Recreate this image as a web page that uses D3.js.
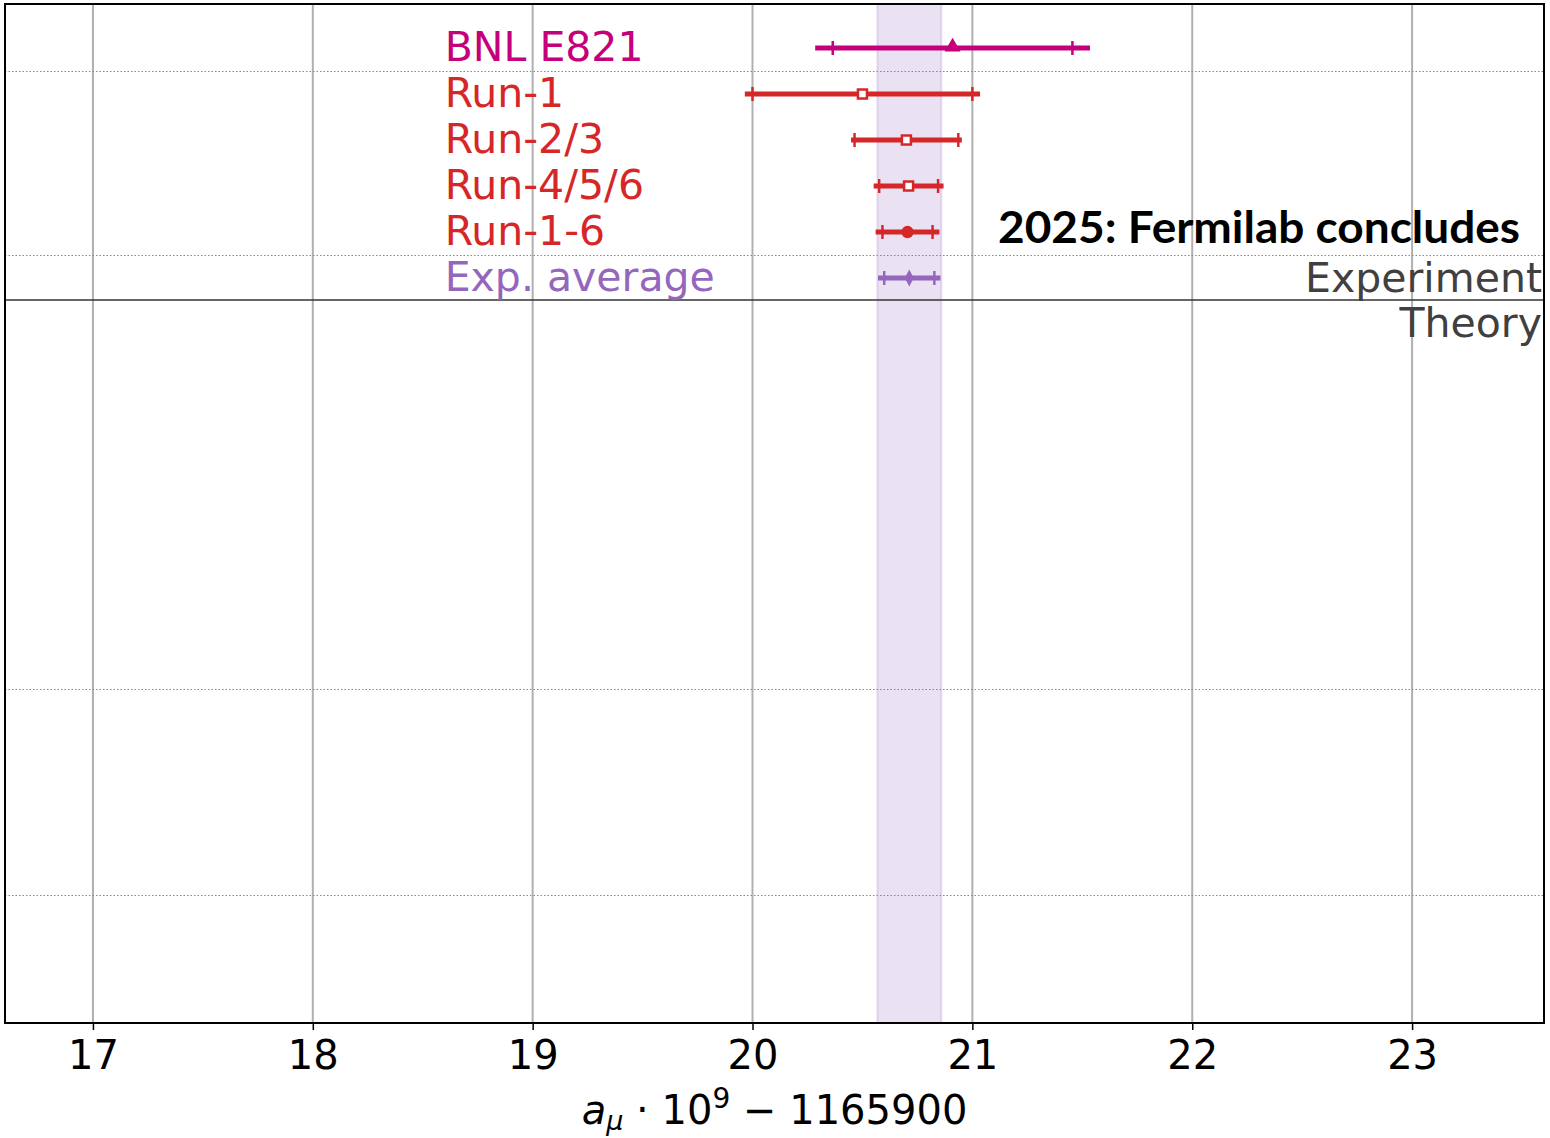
<!DOCTYPE html>
<meta charset="utf-8" />
<script src="https://d3js.org/d3.v7.min.js"></script>
<head>
<style>
  body { margin: 0; background: white; }
  .lbl { font-family: 'DejaVu Sans', sans-serif; font-size: 40px; }
  .row { font-family: 'DejaVu Sans', sans-serif; font-size: 41px; }
  .sec { font-family: 'DejaVu Sans', sans-serif; font-size: 41px; }
  .tick text { font-family: 'DejaVu Sans', sans-serif; font-size: 40px; }
</style>
</head>
<body>
<svg id="chart" width="1550" height="1138"></svg>
<script>
// measurements (a_mu * 1e9 - 1165900)
const labels = ["BNL E821", "Run-1", "Run-2/3", "Run-4/5/6", "Run-1-6", "Exp. average"];
const centers = [20.91, 20.50, 20.70, 20.71, 20.705, 20.713];
const totalErr = [0.625, 0.535, 0.252, 0.159, 0.145, 0.142];
const statErr = [0.545, 0.50, 0.236, 0.134, 0.114, 0.114];
const colors = ["#c4007a", "#d62728", "#d62728", "#d62728", "#d62728", "#9467bd"];
const markers = ["triangle", "square", "square", "square", "circle", "diamond"];
const xTicks = [17, 18, 19, 20, 21, 22, 23];
const bandRange = [20.568, 20.859];
const dottedRows = [0.5, 4.5, 13.94, 18.42];
const splitRow = 5.48;

const svg = d3.select("#chart");
const pLeft = 5, pRight = 1544, pTop = 4, pBottom = 1023;

const x = d3.scaleLinear().domain([16.6, 23.6]).range([pLeft, pRight]);
const y = d3.scaleLinear().domain([-0.957, 21.196]).range([pTop, pBottom]);

// grid
svg.append("g").selectAll("line").data(xTicks).enter().append("line")
  .attr("x1", d => x(d)).attr("x2", d => x(d))
  .attr("y1", pTop).attr("y2", pBottom)
  .attr("stroke", "#b0b0b0").attr("stroke-width", 2);

// experimental average band
svg.append("rect")
  .attr("x", x(bandRange[0])).attr("width", x(bandRange[1]) - x(bandRange[0]))
  .attr("y", pTop).attr("height", pBottom - pTop)
  .attr("fill", "#9467bd").attr("fill-opacity", 0.2)
  .attr("stroke", "#9467bd").attr("stroke-opacity", 0.2).attr("stroke-width", 2);

// dotted separators
svg.append("g").selectAll("line").data(dottedRows).enter().append("line")
  .attr("x1", pLeft).attr("x2", pRight)
  .attr("y1", d => Math.round(y(d)) + 0.5).attr("y2", d => Math.round(y(d)) + 0.5)
  .attr("stroke", "#888").attr("stroke-width", 1.2).attr("stroke-dasharray", "1.5,2");

// experiment / theory split
svg.append("line")
  .attr("x1", pLeft).attr("x2", pRight)
  .attr("y1", y(splitRow)).attr("y2", y(splitRow))
  .attr("stroke", "#333").attr("stroke-width", 1.5);

// error bars
const rows = svg.append("g").selectAll("g").data(labels).enter().append("g");
rows.append("line")
  .attr("x1", (d, i) => x(centers[i] - totalErr[i]))
  .attr("x2", (d, i) => x(centers[i] + totalErr[i]))
  .attr("y1", (d, i) => y(i)).attr("y2", (d, i) => y(i))
  .attr("stroke", (d, i) => colors[i]).attr("stroke-width", 5);
[-1, 1].forEach(s => {
  rows.append("line")
    .attr("x1", (d, i) => x(centers[i] + s * statErr[i]))
    .attr("x2", (d, i) => x(centers[i] + s * statErr[i]))
    .attr("y1", (d, i) => y(i) - 7).attr("y2", (d, i) => y(i) + 7)
    .attr("stroke", (d, i) => colors[i]).attr("stroke-width", 2.5);
});

// markers
const symbolType = { triangle: d3.symbolTriangle, square: d3.symbolSquare, circle: d3.symbolCircle };
rows.each(function (d, i) {
  const g = d3.select(this);
  const cx = x(centers[i]), cy = y(i);
  const m = markers[i];
  if (m === "diamond") {
    g.append("path")
      .attr("d", `M${cx},${cy - 8.5}L${cx + 4.5},${cy}L${cx},${cy + 8.5}L${cx - 4.5},${cy}Z`)
      .attr("fill", colors[i]);
  } else if (m === "square") {
    g.append("rect")
      .attr("x", cx - 4.5).attr("y", cy - 4.5).attr("width", 9).attr("height", 9)
      .attr("fill", "white").attr("stroke", colors[i]).attr("stroke-width", 2.5);
  } else if (m === "triangle") {
    g.append("path")
      .attr("d", d3.symbol().type(symbolType[m]).size(110))
      .attr("transform", `translate(${cx},${cy - 1})`)
      .attr("fill", colors[i]);
  } else {
    g.append("path")
      .attr("d", d3.symbol().type(symbolType[m]).size(120))
      .attr("transform", `translate(${cx},${cy})`)
      .attr("fill", colors[i]);
  }
});

// row labels
rows.append("text")
  .attr("class", "row")
  .attr("x", x(18.6)).attr("y", (d, i) => y(i) + 13)
  .attr("fill", (d, i) => colors[i])
  .text(d => d);

// section labels
svg.append("text").attr("class", "sec")
  .attr("x", pRight - 2).attr("y", y(splitRow) - 8)
  .attr("text-anchor", "end").attr("fill", "#404040").text("Experiment");
svg.append("text").attr("class", "sec")
  .attr("x", pRight - 2).attr("y", y(splitRow) + 37)
  .attr("text-anchor", "end").attr("fill", "#404040").text("Theory");

svg.append("text")
  .attr("x", 1520).attr("y", 243)
  .attr("text-anchor", "end")
  .style("font-family", "Lato, sans-serif").style("font-weight", "bold").style("font-size", "43px")
  .attr("textLength", 522).attr("lengthAdjust", "spacingAndGlyphs")
  .attr("fill", "black").text("2025: Fermilab concludes");

// frame
svg.append("rect")
  .attr("x", pLeft).attr("y", pTop).attr("width", pRight - pLeft).attr("height", pBottom - pTop)
  .attr("fill", "none").attr("stroke", "black").attr("stroke-width", 2);

// x axis
const xAxis = svg.append("g")
  .attr("transform", `translate(0,${pBottom})`)
  .call(d3.axisBottom(x).tickValues(xTicks).tickSize(7).tickPadding(11).tickFormat(d3.format("d")));
xAxis.select(".domain").remove();
xAxis.selectAll(".tick line").attr("stroke", "black").attr("stroke-width", 1.5);
xAxis.selectAll(".tick text").attr("fill", "black");

// axis title
const title = svg.append("text").attr("class", "lbl")
  .attr("x", (pLeft + pRight) / 2).attr("y", 1124)
  .attr("text-anchor", "middle").attr("fill", "black");
title.append("tspan").style("font-style", "italic").text("a");
title.append("tspan").attr("dy", 6).style("font-size", "27px").style("font-style", "italic").text("μ");
title.append("tspan").attr("dy", -6).text(" · 10");
title.append("tspan").attr("dy", -16).style("font-size", "28px").text("9");
title.append("tspan").attr("dy", 16).text(" −  1165900");
</script>
</body>
</html>
